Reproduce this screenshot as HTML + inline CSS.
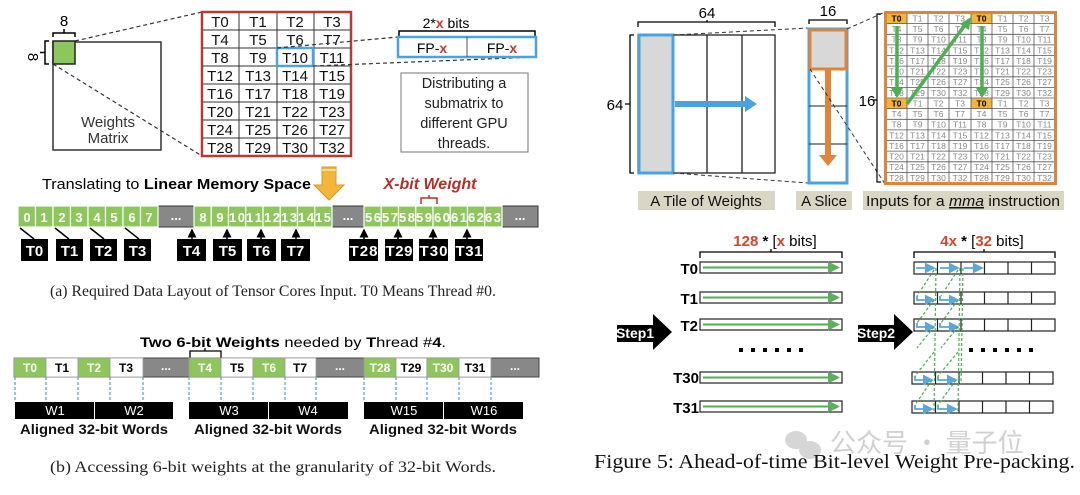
<!DOCTYPE html>
<html><head><meta charset="utf-8"><style>
html,body{margin:0;padding:0;background:#fff;}
svg{display:block;font-family:"Liberation Sans",Arial,sans-serif;}
.s{font-family:"Liberation Serif",serif;}
</style></head><body>
<svg width="1080" height="495" viewBox="0 0 1080 495" xmlns="http://www.w3.org/2000/svg">
<defs>
<marker id="ab" markerWidth="6" markerHeight="6" refX="5" refY="3" orient="auto"><path d="M0,0 L6,3 L0,6z" fill="#5aa7d8"/></marker>
<marker id="ag" markerWidth="6" markerHeight="6" refX="5" refY="3" orient="auto"><path d="M0,0 L6,3 L0,6z" fill="#5cb05c"/></marker>
<marker id="ak" markerWidth="6" markerHeight="6" refX="5" refY="3" orient="auto"><path d="M0,0 L6,3 L0,6z" fill="#000"/></marker>
</defs>

<!-- ===== Part (a) ===== -->
<text x="64" y="26" font-size="15" text-anchor="middle">8</text>
<path d="M53,37 V33 H75 V37 M64,33 V29" fill="none" stroke="#000" stroke-width="1.5"/>
<text x="33" y="62" font-size="15" text-anchor="middle" transform="rotate(90 33 57)">8</text>
<path d="M49,41 H45 V64 H49 M45,52.5 H40" fill="none" stroke="#000" stroke-width="1.5"/>
<rect x="53" y="42" width="108" height="108" fill="#fff" stroke="#333" stroke-width="1.5"/>
<rect x="53" y="41" width="22" height="23" fill="#8dc65a" stroke="#222" stroke-width="1.5"/>
<text x="108" y="127" font-size="15" text-anchor="middle" fill="#333">Weights</text>
<text x="108" y="143" font-size="15" text-anchor="middle" fill="#333">Matrix</text>
<line x1="75" y1="41" x2="202" y2="12" stroke="#333" stroke-dasharray="4,3" stroke-width="1.2"/>
<line x1="53" y1="64" x2="202" y2="156" stroke="#333" stroke-dasharray="4,3" stroke-width="1.2"/>

<g stroke="#333" stroke-width="1">
<line x1="239" y1="12" x2="239" y2="156"/><line x1="277" y1="12" x2="277" y2="156"/><line x1="314" y1="12" x2="314" y2="156"/>
<line x1="202" y1="30" x2="351" y2="30"/><line x1="202" y1="48" x2="351" y2="48"/><line x1="202" y1="66" x2="351" y2="66"/><line x1="202" y1="84" x2="351" y2="84"/><line x1="202" y1="102" x2="351" y2="102"/><line x1="202" y1="120" x2="351" y2="120"/><line x1="202" y1="138" x2="351" y2="138"/>
</g>
<rect x="202" y="12" width="149" height="144" fill="none" stroke="#b83a32" stroke-width="2.5"/>
<rect x="277" y="48" width="36" height="18" fill="none" stroke="#4aa3df" stroke-width="2.5"/>
<g font-size="15" text-anchor="middle" fill="#111">
<text x="220" y="27">T0</text><text x="258" y="27">T1</text><text x="295" y="27">T2</text><text x="332" y="27">T3</text>
<text x="220" y="45">T4</text><text x="258" y="45">T5</text><text x="295" y="45">T6</text><text x="332" y="45">T7</text>
<text x="220" y="63">T8</text><text x="258" y="63">T9</text><text x="295" y="63">T10</text><text x="332" y="63">T11</text>
<text x="220" y="81">T12</text><text x="258" y="81">T13</text><text x="295" y="81">T14</text><text x="332" y="81">T15</text>
<text x="220" y="99">T16</text><text x="258" y="99">T17</text><text x="295" y="99">T18</text><text x="332" y="99">T19</text>
<text x="220" y="117">T20</text><text x="258" y="117">T21</text><text x="295" y="117">T22</text><text x="332" y="117">T23</text>
<text x="220" y="135">T24</text><text x="258" y="135">T25</text><text x="295" y="135">T26</text><text x="332" y="135">T27</text>
<text x="220" y="153">T28</text><text x="258" y="153">T29</text><text x="295" y="153">T30</text><text x="332" y="153">T32</text>
</g>
<line x1="277" y1="48" x2="398" y2="37" stroke="#333" stroke-dasharray="4,3" stroke-width="1.2"/>
<line x1="313" y1="66" x2="536" y2="57" stroke="#333" stroke-dasharray="4,3" stroke-width="1.2"/>
<text x="446" y="28" font-size="14" text-anchor="middle">2*<tspan fill="#c0392b" font-weight="bold">x</tspan> bits</text>
<path d="M399,36 V31 H535 V36" fill="none" stroke="#000" stroke-width="1.5"/>
<rect x="398" y="37" width="138" height="20" fill="#fff" stroke="#4aa3df" stroke-width="2.5"/>
<line x1="467" y1="37" x2="467" y2="57" stroke="#555"/>
<text x="432" y="53" font-size="14" text-anchor="middle">FP-<tspan fill="#c0392b" font-weight="bold">x</tspan></text>
<text x="502" y="53" font-size="14" text-anchor="middle">FP-<tspan fill="#c0392b" font-weight="bold">x</tspan></text>
<rect x="401" y="73" width="127" height="79" fill="#fff" stroke="#777" stroke-width="1"/>
<g font-size="14.5" text-anchor="middle" fill="#222">
<text x="464" y="88">Distributing a</text><text x="464" y="108">submatrix to</text><text x="464" y="128">different GPU</text><text x="464" y="148">threads.</text>
</g>
<text x="42" y="189" font-size="15" textLength="269" lengthAdjust="spacingAndGlyphs">Translating to <tspan font-weight="bold">Linear Memory Space</tspan></text>
<path d="M322,167 H336 V185 H344 L329,200 L314,185 H322Z" fill="#f3b63a" stroke="#d8962a"/>
<line x1="322" y1="170" x2="336" y2="170" stroke="#fff"/>
<text x="430" y="189" font-size="16" font-weight="bold" font-style="italic" fill="#b82e28" text-anchor="middle">X-bit Weight</text>
<path d="M421,204 V198 H437 V204 M429,198 V195" fill="none" stroke="#b82e28" stroke-width="1.5"/>

<!-- memory strip -->
<rect x="18" y="206" width="520" height="21" fill="#888" stroke="#333"/>
<g fill="#8dc65a" stroke="#fff" stroke-width="1.2">
<rect x="18" y="206" width="17.5" height="21"/><rect x="35.5" y="206" width="17.5" height="21"/><rect x="53" y="206" width="17.5" height="21"/><rect x="70.5" y="206" width="17.5" height="21"/><rect x="88" y="206" width="17.5" height="21"/><rect x="105.5" y="206" width="17.5" height="21"/><rect x="123" y="206" width="17.5" height="21"/><rect x="140.5" y="206" width="17.5" height="21"/>
<rect x="194" y="206" width="17.25" height="21"/><rect x="211.25" y="206" width="17.25" height="21"/><rect x="228.5" y="206" width="17.25" height="21"/><rect x="245.75" y="206" width="17.25" height="21"/><rect x="263" y="206" width="17.25" height="21"/><rect x="280.25" y="206" width="17.25" height="21"/><rect x="297.5" y="206" width="17.25" height="21"/><rect x="314.75" y="206" width="17.25" height="21"/>
<rect x="364" y="206" width="17.25" height="21"/><rect x="381.25" y="206" width="17.25" height="21"/><rect x="398.5" y="206" width="17.25" height="21"/><rect x="415.75" y="206" width="17.25" height="21"/><rect x="433" y="206" width="17.25" height="21"/><rect x="450.25" y="206" width="17.25" height="21"/><rect x="467.5" y="206" width="17.25" height="21"/><rect x="484.75" y="206" width="17.25" height="21"/>
</g>
<g font-size="13" font-weight="bold" fill="#fff" text-anchor="middle">
<text x="27" y="222">0</text><text x="44" y="222">1</text><text x="62" y="222">2</text><text x="79" y="222">3</text><text x="97" y="222">4</text><text x="114" y="222">5</text><text x="132" y="222">6</text><text x="149" y="222">7</text>
<text x="176" y="220">...</text>
<text x="203" y="222">8</text><text x="220" y="222">9</text><text x="237" y="222" textLength="16">10</text><text x="254" y="222" textLength="16">11</text><text x="272" y="222" textLength="16">12</text><text x="289" y="222" textLength="16">13</text><text x="306" y="222" textLength="16">14</text><text x="323" y="222" textLength="16">15</text>
<text x="348" y="220">...</text>
<text x="373" y="222" textLength="16">56</text><text x="390" y="222" textLength="16">57</text><text x="407" y="222" textLength="16">58</text><text x="424" y="222" textLength="16">59</text><text x="442" y="222" textLength="16">60</text><text x="459" y="222" textLength="16">61</text><text x="476" y="222" textLength="16">62</text><text x="493" y="222" textLength="16">63</text>
<text x="520" y="220">...</text>
</g>
<g stroke="#000" stroke-width="1.5">
<line x1="20" y1="228" x2="34" y2="239"/><line x1="55" y1="228" x2="69" y2="239"/><line x1="90" y1="228" x2="104" y2="239"/><line x1="125" y1="228" x2="139" y2="239"/>
<line x1="192" y1="239" x2="192" y2="230" marker-end="url(#ak)"/><line x1="227" y1="239" x2="227" y2="230" marker-end="url(#ak)"/><line x1="261" y1="239" x2="261" y2="230" marker-end="url(#ak)"/><line x1="296" y1="239" x2="296" y2="230" marker-end="url(#ak)"/>
<line x1="364" y1="239" x2="364" y2="230" marker-end="url(#ak)"/><line x1="398" y1="239" x2="398" y2="230" marker-end="url(#ak)"/><line x1="433" y1="239" x2="433" y2="230" marker-end="url(#ak)"/><line x1="467" y1="239" x2="467" y2="230" marker-end="url(#ak)"/>
</g>
<g fill="#000">
<rect x="21" y="239" width="27" height="22"/><rect x="56" y="239" width="27" height="22"/><rect x="90" y="239" width="27" height="22"/><rect x="124" y="239" width="27" height="22"/>
<rect x="177" y="239" width="29" height="22"/><rect x="213" y="239" width="29" height="22"/><rect x="247" y="239" width="29" height="22"/><rect x="281" y="239" width="29" height="22"/>
<rect x="349" y="239" width="29" height="22"/><rect x="385" y="239" width="28" height="22"/><rect x="419" y="239" width="29" height="22"/><rect x="455" y="239" width="28" height="22"/>
</g>
<g font-size="15" font-weight="bold" fill="#fff" text-anchor="middle">
<text x="34.5" y="256">T0</text><text x="69.5" y="256">T1</text><text x="103.5" y="256">T2</text><text x="137.5" y="256">T3</text>
<text x="191.5" y="256">T4</text><text x="227.5" y="256">T5</text><text x="261.5" y="256">T6</text><text x="295.5" y="256">T7</text>
<text x="363.5" y="256" textLength="28">T28</text><text x="399" y="256" textLength="27">T29</text><text x="433.5" y="256" textLength="28">T30</text><text x="469" y="256" textLength="27">T31</text>
</g>
<text x="50" y="296" class="s" font-size="15.5" fill="#222" textLength="446" lengthAdjust="spacingAndGlyphs">(a) Required Data Layout of Tensor Cores Input. T0 Means Thread #0.</text>

<!-- ===== Part (b) ===== -->
<text x="293" y="347" font-size="14" text-anchor="middle" textLength="306" lengthAdjust="spacingAndGlyphs"><tspan font-weight="bold">Two 6-bit Weights</tspan> needed by <tspan font-weight="bold">T</tspan>hread #<tspan font-weight="bold">4</tspan>.</text>
<path d="M190,358 V351 H221 V358 M205,351 V348" fill="none" stroke="#000" stroke-width="1.3"/>
<rect x="14" y="358" width="525" height="19" fill="#888" stroke="#444"/>
<g stroke="#999" stroke-width="0.8">
<rect x="14" y="358" width="32" height="19" fill="#8dc65a"/><rect x="46" y="358" width="32" height="19" fill="#fff"/><rect x="78" y="358" width="32" height="19" fill="#8dc65a"/><rect x="110" y="358" width="33" height="19" fill="#fff"/>
<rect x="189" y="358" width="32" height="19" fill="#8dc65a"/><rect x="221" y="358" width="32" height="19" fill="#fff"/><rect x="253" y="358" width="32" height="19" fill="#8dc65a"/><rect x="285" y="358" width="31" height="19" fill="#fff"/>
<rect x="364" y="358" width="32" height="19" fill="#8dc65a"/><rect x="396" y="358" width="31" height="19" fill="#fff"/><rect x="427" y="358" width="32" height="19" fill="#8dc65a"/><rect x="459" y="358" width="32" height="19" fill="#fff"/>
</g>
<g font-size="12" font-weight="bold" text-anchor="middle">
<text x="30" y="372" fill="#fff">T0</text><text x="62" y="372">T1</text><text x="94" y="372" fill="#fff">T2</text><text x="126" y="372">T3</text><text x="166" y="370" fill="#fff">...</text>
<text x="205" y="372" fill="#fff">T4</text><text x="237" y="372">T5</text><text x="269" y="372" fill="#fff">T6</text><text x="300" y="372">T7</text><text x="340" y="370" fill="#fff">...</text>
<text x="380" y="372" fill="#fff">T28</text><text x="411" y="372">T29</text><text x="443" y="372" fill="#fff">T30</text><text x="475" y="372">T31</text><text x="515" y="370" fill="#fff">...</text>
</g>
<g stroke="#5aa7d8" stroke-width="1.3" stroke-dasharray="3,2">
<line x1="15" y1="377" x2="15" y2="402"/><line x1="46" y1="377" x2="46" y2="402"/><line x1="78" y1="377" x2="78" y2="402"/><line x1="110" y1="377" x2="110" y2="402"/><line x1="143" y1="377" x2="143" y2="402"/>
<line x1="189" y1="377" x2="189" y2="402"/><line x1="221" y1="377" x2="221" y2="402"/><line x1="253" y1="377" x2="253" y2="402"/><line x1="285" y1="377" x2="285" y2="402"/><line x1="316" y1="377" x2="316" y2="402"/>
<line x1="364" y1="377" x2="364" y2="402"/><line x1="396" y1="377" x2="396" y2="402"/><line x1="427" y1="377" x2="427" y2="402"/><line x1="459" y1="377" x2="459" y2="402"/><line x1="491" y1="377" x2="491" y2="402"/>
</g>
<g fill="#000">
<rect x="15" y="402" width="79" height="17"/><rect x="95" y="402" width="78" height="17"/>
<rect x="189" y="402" width="79" height="17"/><rect x="269" y="402" width="79" height="17"/>
<rect x="364" y="402" width="79" height="17"/><rect x="444" y="402" width="79" height="17"/>
</g>
<g font-size="13" fill="#fff" text-anchor="middle">
<text x="55" y="415">W1</text><text x="134" y="415">W2</text><text x="229" y="415">W3</text><text x="308" y="415">W4</text><text x="404" y="415">W15</text><text x="484" y="415">W16</text>
</g>
<g font-size="14" font-weight="bold" text-anchor="middle" fill="#111">
<text x="94" y="434" textLength="148" lengthAdjust="spacingAndGlyphs">Aligned 32-bit Words</text>
<text x="268" y="434" textLength="148" lengthAdjust="spacingAndGlyphs">Aligned 32-bit Words</text>
<text x="443" y="434" textLength="148" lengthAdjust="spacingAndGlyphs">Aligned 32-bit Words</text>
</g>
<text x="50" y="472" class="s" font-size="15.5" fill="#222" textLength="446" lengthAdjust="spacingAndGlyphs">(b) Accessing 6-bit weights at the granularity of 32-bit Words.</text>

<!-- ===== Right top ===== -->
<text x="707" y="18" font-size="15" text-anchor="middle">64</text>
<path d="M638,27 V22 H775 V27 M707,22 V20" fill="none" stroke="#000" stroke-width="1.3"/>
<text x="615" y="110" font-size="15" text-anchor="middle">64</text>
<path d="M634,35 H630 V173 H634 M630,104 H625" fill="none" stroke="#000" stroke-width="1.3"/>
<rect x="638" y="35" width="137" height="138" fill="#fff" stroke="#222" stroke-width="1.3"/>
<line x1="707" y1="35" x2="707" y2="173" stroke="#222" stroke-width="1.3"/>
<line x1="742" y1="35" x2="742" y2="173" stroke="#222" stroke-width="1.3"/>
<rect x="639" y="35" width="34" height="138" fill="#d8d8d8" stroke="#4aa3df" stroke-width="3"/>
<path d="M675,101 H745 V96 L757,104 L745,112 V107 H675Z" fill="#4aa3df"/>
<line x1="673" y1="35" x2="808" y2="28" stroke="#333" stroke-dasharray="4,3"/>
<line x1="673" y1="173" x2="808" y2="183" stroke="#333" stroke-dasharray="4,3"/>
<text x="828" y="16" font-size="15" text-anchor="middle">16</text>
<path d="M809,24 V20 H847 V24" fill="none" stroke="#000" stroke-width="1.3"/>
<rect x="809" y="29" width="38" height="154" fill="#fff" stroke="#4aa3df" stroke-width="3"/>
<line x1="809" y1="106" x2="847" y2="106" stroke="#222"/><line x1="809" y1="144" x2="847" y2="144" stroke="#222"/>
<rect x="810" y="30" width="36" height="39" fill="#d8d8d8" stroke="#e0843a" stroke-width="3"/>
<path d="M825,70 H831 V155 H837 L828,166 L819,155 H825Z" fill="#e0843a"/>
<line x1="847" y1="29" x2="885" y2="12" stroke="#333" stroke-dasharray="4,3"/>
<line x1="810" y1="69" x2="885" y2="184" stroke="#333" stroke-dasharray="4,3"/>
<text x="867" y="106" font-size="15" text-anchor="middle">16</text>
<path d="M881,14 H877 V182 H881 M877,100 H873" fill="none" stroke="#000" stroke-width="1.2"/>
<!-- mma grid -->
<rect x="886" y="13" width="169" height="170" fill="#fff"/>
<rect x="886.5" y="13.5" width="21" height="10" fill="#f3b63a"/><rect x="971" y="13.5" width="21" height="10" fill="#f3b63a"/>
<rect x="886.5" y="98.5" width="21" height="10" fill="#f3b63a"/><rect x="971" y="98.5" width="21" height="10" fill="#f3b63a"/>
<g stroke="#555" stroke-width="0.8">
<line x1="907" y1="13" x2="907" y2="183"/><line x1="928" y1="13" x2="928" y2="183"/><line x1="949" y1="13" x2="949" y2="183"/><line x1="971" y1="13" x2="971" y2="183"/><line x1="992" y1="13" x2="992" y2="183"/><line x1="1013" y1="13" x2="1013" y2="183"/><line x1="1034" y1="13" x2="1034" y2="183"/>
<line x1="886" y1="23.6" x2="1055" y2="23.6"/><line x1="886" y1="34.3" x2="1055" y2="34.3"/><line x1="886" y1="44.9" x2="1055" y2="44.9"/><line x1="886" y1="55.5" x2="1055" y2="55.5"/><line x1="886" y1="66.1" x2="1055" y2="66.1"/><line x1="886" y1="76.8" x2="1055" y2="76.8"/><line x1="886" y1="87.4" x2="1055" y2="87.4"/><line x1="886" y1="98" x2="1055" y2="98"/><line x1="886" y1="108.6" x2="1055" y2="108.6"/><line x1="886" y1="119.3" x2="1055" y2="119.3"/><line x1="886" y1="129.9" x2="1055" y2="129.9"/><line x1="886" y1="140.5" x2="1055" y2="140.5"/><line x1="886" y1="151.1" x2="1055" y2="151.1"/><line x1="886" y1="161.8" x2="1055" y2="161.8"/><line x1="886" y1="172.4" x2="1055" y2="172.4"/>
</g>
<g font-size="8.5" text-anchor="middle" fill="#888">
<text x="896.5" y="21.5" fill="#000" font-weight="bold">T0</text><text x="917.5" y="21.5">T1</text><text x="938.5" y="21.5">T2</text><text x="960" y="21.5">T3</text><text x="981.5" y="21.5" fill="#000" font-weight="bold">T0</text><text x="1002.5" y="21.5">T1</text><text x="1023.5" y="21.5">T2</text><text x="1044.5" y="21.5">T3</text>
<text x="896.5" y="32">T4</text><text x="917.5" y="32">T5</text><text x="938.5" y="32">T6</text><text x="960" y="32">T7</text><text x="981.5" y="32">T4</text><text x="1002.5" y="32">T5</text><text x="1023.5" y="32">T6</text><text x="1044.5" y="32">T7</text>
<text x="896.5" y="42.7">T8</text><text x="917.5" y="42.7">T9</text><text x="938.5" y="42.7">T10</text><text x="960" y="42.7">T11</text><text x="981.5" y="42.7">T8</text><text x="1002.5" y="42.7">T9</text><text x="1023.5" y="42.7">T10</text><text x="1044.5" y="42.7">T11</text>
<text x="896.5" y="53.3">T12</text><text x="917.5" y="53.3">T13</text><text x="938.5" y="53.3">T14</text><text x="960" y="53.3">T15</text><text x="981.5" y="53.3">T12</text><text x="1002.5" y="53.3">T13</text><text x="1023.5" y="53.3">T14</text><text x="1044.5" y="53.3">T15</text>
<text x="896.5" y="63.9">T16</text><text x="917.5" y="63.9">T17</text><text x="938.5" y="63.9">T18</text><text x="960" y="63.9">T19</text><text x="981.5" y="63.9">T16</text><text x="1002.5" y="63.9">T17</text><text x="1023.5" y="63.9">T18</text><text x="1044.5" y="63.9">T19</text>
<text x="896.5" y="74.5">T20</text><text x="917.5" y="74.5">T21</text><text x="938.5" y="74.5">T22</text><text x="960" y="74.5">T23</text><text x="981.5" y="74.5">T20</text><text x="1002.5" y="74.5">T21</text><text x="1023.5" y="74.5">T22</text><text x="1044.5" y="74.5">T23</text>
<text x="896.5" y="85.2">T24</text><text x="917.5" y="85.2">T25</text><text x="938.5" y="85.2">T26</text><text x="960" y="85.2">T27</text><text x="981.5" y="85.2">T24</text><text x="1002.5" y="85.2">T25</text><text x="1023.5" y="85.2">T26</text><text x="1044.5" y="85.2">T27</text>
<text x="896.5" y="95.8">T28</text><text x="917.5" y="95.8">T29</text><text x="938.5" y="95.8">T30</text><text x="960" y="95.8">T32</text><text x="981.5" y="95.8">T28</text><text x="1002.5" y="95.8">T29</text><text x="1023.5" y="95.8">T30</text><text x="1044.5" y="95.8">T32</text>
<text x="896.5" y="106.4" fill="#000" font-weight="bold">T0</text><text x="917.5" y="106.4">T1</text><text x="938.5" y="106.4">T2</text><text x="960" y="106.4">T3</text><text x="981.5" y="106.4" fill="#000" font-weight="bold">T0</text><text x="1002.5" y="106.4">T1</text><text x="1023.5" y="106.4">T2</text><text x="1044.5" y="106.4">T3</text>
<text x="896.5" y="117">T4</text><text x="917.5" y="117">T5</text><text x="938.5" y="117">T6</text><text x="960" y="117">T7</text><text x="981.5" y="117">T4</text><text x="1002.5" y="117">T5</text><text x="1023.5" y="117">T6</text><text x="1044.5" y="117">T7</text>
<text x="896.5" y="127.7">T8</text><text x="917.5" y="127.7">T9</text><text x="938.5" y="127.7">T10</text><text x="960" y="127.7">T11</text><text x="981.5" y="127.7">T8</text><text x="1002.5" y="127.7">T9</text><text x="1023.5" y="127.7">T10</text><text x="1044.5" y="127.7">T11</text>
<text x="896.5" y="138.3">T12</text><text x="917.5" y="138.3">T13</text><text x="938.5" y="138.3">T14</text><text x="960" y="138.3">T15</text><text x="981.5" y="138.3">T12</text><text x="1002.5" y="138.3">T13</text><text x="1023.5" y="138.3">T14</text><text x="1044.5" y="138.3">T15</text>
<text x="896.5" y="148.9">T16</text><text x="917.5" y="148.9">T17</text><text x="938.5" y="148.9">T18</text><text x="960" y="148.9">T19</text><text x="981.5" y="148.9">T16</text><text x="1002.5" y="148.9">T17</text><text x="1023.5" y="148.9">T18</text><text x="1044.5" y="148.9">T19</text>
<text x="896.5" y="159.5">T20</text><text x="917.5" y="159.5">T21</text><text x="938.5" y="159.5">T22</text><text x="960" y="159.5">T23</text><text x="981.5" y="159.5">T20</text><text x="1002.5" y="159.5">T21</text><text x="1023.5" y="159.5">T22</text><text x="1044.5" y="159.5">T23</text>
<text x="896.5" y="170.2">T24</text><text x="917.5" y="170.2">T25</text><text x="938.5" y="170.2">T26</text><text x="960" y="170.2">T27</text><text x="981.5" y="170.2">T24</text><text x="1002.5" y="170.2">T25</text><text x="1023.5" y="170.2">T26</text><text x="1044.5" y="170.2">T27</text>
<text x="896.5" y="180.8">T28</text><text x="917.5" y="180.8">T29</text><text x="938.5" y="180.8">T30</text><text x="960" y="180.8">T32</text><text x="981.5" y="180.8">T28</text><text x="1002.5" y="180.8">T29</text><text x="1023.5" y="180.8">T30</text><text x="1044.5" y="180.8">T32</text>
</g>
<rect x="885.5" y="12.5" width="170" height="171" fill="none" stroke="#e0843a" stroke-width="3"/>
<g stroke="#4caf50" stroke-width="3.5" fill="#4caf50">
<line x1="897" y1="26" x2="897" y2="90"/><path d="M891,88 L903,88 L897,98Z" stroke="none"/>
<line x1="982" y1="26" x2="982" y2="90"/><path d="M976,88 L988,88 L982,98Z" stroke="none"/>
<line x1="907" y1="104" x2="965" y2="25"/><path d="M960,24 L971,17 L969,30Z" stroke="none"/>
</g>
<g fill="#d9d6c3">
<rect x="638" y="191" width="137" height="19"/><rect x="796" y="191" width="56" height="19"/><rect x="863" y="191" width="201" height="19"/>
</g>
<g font-size="15" fill="#111" text-anchor="middle">
<text x="706" y="206">A Tile of Weights</text><text x="824" y="206">A Slice</text><text x="963" y="206" textLength="194" lengthAdjust="spacingAndGlyphs">Inputs for a <tspan font-style="italic" text-decoration="underline">mma</tspan> instruction</text>
</g>

<!-- ===== Right bottom ===== -->
<text x="775" y="246" font-size="15" text-anchor="middle"><tspan fill="#d8432e" font-weight="bold">128</tspan> <tspan font-weight="bold">*</tspan> [<tspan fill="#d8432e" font-weight="bold">x</tspan> bits]</text>
<path d="M700,258 V252 H842 V258 M771,252 V249" fill="none" stroke="#000" stroke-width="1.3"/>
<g font-size="15" font-weight="bold" text-anchor="end">
<text x="698" y="274">T0</text><text x="698" y="304">T1</text><text x="698" y="331">T2</text><text x="699" y="383">T30</text><text x="699" y="413">T31</text>
</g>
<g fill="#fff" stroke="#222" stroke-width="1.2">
<rect x="700" y="262" width="142" height="11"/><rect x="700" y="292" width="142" height="11"/><rect x="700" y="319" width="142" height="11"/><rect x="700" y="372" width="142" height="11"/><rect x="700" y="401" width="142" height="11"/>
</g>
<g stroke="#4caf50" stroke-width="2" marker-end="url(#ag)">
<line x1="703" y1="267.5" x2="838" y2="267.5"/><line x1="703" y1="297.5" x2="838" y2="297.5"/><line x1="703" y1="324.5" x2="838" y2="324.5"/><line x1="703" y1="377.5" x2="838" y2="377.5"/><line x1="703" y1="406.5" x2="838" y2="406.5"/>
</g>
<path d="M617,325 H653 V314 L672,332 L653,350 V342 H617Z" fill="#000"/>
<text x="635" y="338" font-size="14" font-weight="bold" fill="#fff" text-anchor="middle">Step1</text>
<g fill="#000"><rect x="739" y="348" width="4" height="4"/><rect x="751" y="348" width="4" height="4"/><rect x="763" y="348" width="4" height="4"/><rect x="775" y="348" width="4" height="4"/><rect x="787" y="348" width="4" height="4"/><rect x="799" y="348" width="4" height="4"/></g>

<text x="982" y="246" font-size="15" text-anchor="middle"><tspan fill="#d8432e" font-weight="bold">4x</tspan> <tspan font-weight="bold">*</tspan> [<tspan fill="#d8432e" font-weight="bold">32</tspan> bits]</text>
<path d="M914,258 V252 H1055 V258 M984,252 V249" fill="none" stroke="#000" stroke-width="1.3"/>
<g fill="#fff" stroke="#222" stroke-width="1.2">
<rect x="914" y="262" width="141" height="12"/><rect x="914" y="292" width="141" height="12"/><rect x="914" y="319" width="141" height="12"/><rect x="912" y="372" width="141" height="12"/><rect x="912" y="401" width="141" height="12"/>
</g>
<g stroke="#222" stroke-width="1.2">
<line x1="937.5" y1="262" x2="937.5" y2="274"/><line x1="961" y1="262" x2="961" y2="274"/><line x1="984.5" y1="262" x2="984.5" y2="274"/><line x1="1008" y1="262" x2="1008" y2="274"/><line x1="1031.5" y1="262" x2="1031.5" y2="274"/>
<line x1="937.5" y1="292" x2="937.5" y2="304"/><line x1="961" y1="292" x2="961" y2="304"/><line x1="984.5" y1="292" x2="984.5" y2="304"/><line x1="1008" y1="292" x2="1008" y2="304"/><line x1="1031.5" y1="292" x2="1031.5" y2="304"/>
<line x1="937.5" y1="319" x2="937.5" y2="331"/><line x1="961" y1="319" x2="961" y2="331"/><line x1="984.5" y1="319" x2="984.5" y2="331"/><line x1="1008" y1="319" x2="1008" y2="331"/><line x1="1031.5" y1="319" x2="1031.5" y2="331"/>
<line x1="935.5" y1="372" x2="935.5" y2="384"/><line x1="959" y1="372" x2="959" y2="384"/><line x1="982.5" y1="372" x2="982.5" y2="384"/><line x1="1006" y1="372" x2="1006" y2="384"/><line x1="1029.5" y1="372" x2="1029.5" y2="384"/>
<line x1="935.5" y1="401" x2="935.5" y2="413"/><line x1="959" y1="401" x2="959" y2="413"/><line x1="982.5" y1="401" x2="982.5" y2="413"/><line x1="1006" y1="401" x2="1006" y2="413"/><line x1="1029.5" y1="401" x2="1029.5" y2="413"/>
</g>
<g stroke="#5aa7d8" stroke-width="1.8" fill="none" marker-end="url(#ab)">
<line x1="916" y1="268" x2="934" y2="268"/><line x1="940" y1="268" x2="958" y2="268"/><line x1="964" y1="268" x2="982" y2="268"/>
<path d="M917,296 V300 H934"/><path d="M940,296 V300 H958"/>
<path d="M917,323 V327 H934"/><path d="M940,323 V327 H958"/>
<path d="M915,376 V380 H932"/><path d="M938,376 V380 H956"/>
<path d="M915,405 V409 H932"/><path d="M938,405 V409 H956"/>
</g>
<g stroke="#4caf50" stroke-width="1.2" stroke-dasharray="3,2" fill="none">
<line x1="934" y1="270" x2="917" y2="296"/><line x1="958" y1="270" x2="941" y2="296"/>
<line x1="934" y1="300" x2="917" y2="323"/><line x1="958" y1="300" x2="941" y2="323"/>
<line x1="934" y1="327" x2="917" y2="348"/><line x1="958" y1="327" x2="941" y2="348"/>
<line x1="934" y1="352" x2="915" y2="376"/><line x1="958" y1="352" x2="938" y2="376"/>
<line x1="932" y1="380" x2="915" y2="405"/><line x1="956" y1="380" x2="938" y2="405"/>
<line x1="936" y1="268" x2="934" y2="413"/><line x1="960" y1="268" x2="958" y2="413"/><line x1="963" y1="268" x2="961" y2="384"/>
</g>
<path d="M858,325 H894 V314 L913,332 L894,350 V342 H858Z" fill="#000"/>
<text x="876" y="338" font-size="14" font-weight="bold" fill="#fff" text-anchor="middle">Step2</text>
<g fill="#000"><rect x="969" y="348" width="4" height="4"/><rect x="981" y="348" width="4" height="4"/><rect x="993" y="348" width="4" height="4"/><rect x="1005" y="348" width="4" height="4"/><rect x="1017" y="348" width="4" height="4"/><rect x="1029" y="348" width="4" height="4"/></g>

<!-- watermark -->
<g fill="#d6d6d6">
<ellipse cx="796" cy="440" rx="11" ry="9"/><ellipse cx="810" cy="450" rx="11" ry="9"/>
</g>
<text x="830" y="452" font-size="26" fill="#d0d0d0" font-family="'Noto Sans CJK SC',sans-serif">公众号 · 量子位</text>
<text x="594" y="468" class="s" font-size="20" fill="#111" textLength="481" lengthAdjust="spacingAndGlyphs">Figure 5: Ahead-of-time Bit-level Weight Pre-packing.</text>
</svg>
</body></html>
